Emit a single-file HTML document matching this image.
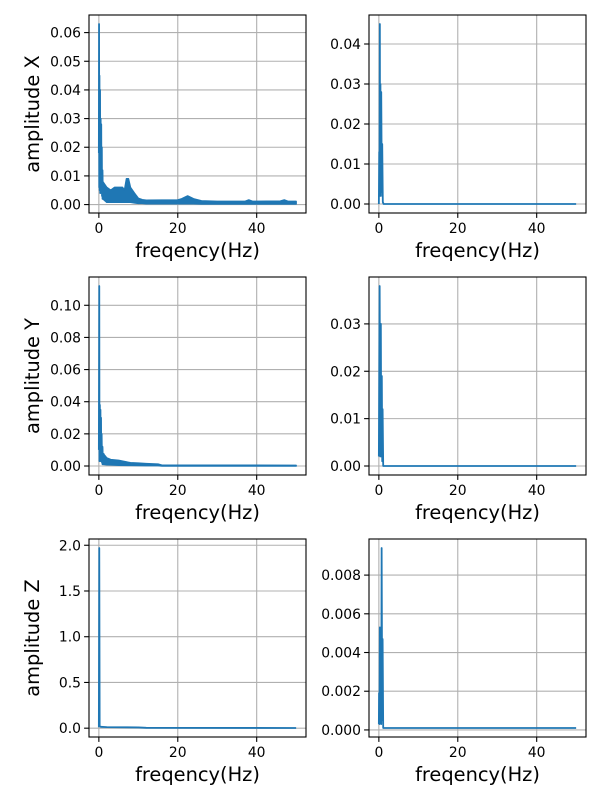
<!DOCTYPE html>
<html><head><meta charset="utf-8"><style>
body{margin:0;background:#fff;}
svg{display:block;font-family:"DejaVu Sans","Liberation Sans",sans-serif;}
</style></head><body>
<svg id="fig" width="600" height="800" viewBox="0 0 600 800"></svg>
<script>
const xTicks = [0, 20, 40];
const xLimits = [-2.5, 52.5];
// peak line data (low-frequency spikes)
const freqXL = [0,0.05,0.1,0.15,0.2,0.3,0.35,0.45,0.5,0.6,0.65,0.75,0.8,0.9,1.0,1.2];
const ampXL = [0.018,0.063,0.006,0.045,0.005,0.04,0.004,0.03,0.005,0.028,0.004,0.02,0.003,0.012,0.002,0.007];
// noise band envelope (dense spectrum region)
const bandFreqXL = [0.9,1,2,3,4,6,6.5,7,7.5,8,9,10,11,12,20,21,22.5,24,26,30,37,38,39,46,47,48,50];
const bandHiXL = [0.012,0.008,0.006,0.005,0.006,0.006,0.005,0.009,0.009,0.006,0.004,0.0022,0.0017,0.0015,0.0016,0.002,0.003,0.002,0.0013,0.0011,0.0011,0.0016,0.0011,0.0012,0.0016,0.0011,0.0011];
const bandLoXL = [0.002,0.002,0.0008,0.0008,0.0008,0.0008,0.0008,0.0008,0.0008,0.0008,0.0006,0.0004,0.0004,0.0003,0.0003,0.0003,0.0003,0.0003,0.0002,0.0002,0.0002,0.0002,0.0002,0.0002,0.0002,0.0002,0.0002];
const freqYL = [0,0.1,0.15,0.25,0.3,0.4,0.45,0.55,0.6,0.7,0.8,0.9,1,1.2];
const ampYL = [0.01,0.112,0.003,0.038,0.004,0.035,0.003,0.03,0.003,0.02,0.002,0.012,0.002,0.008];
const bandFreqYL = [0.9,1,2,3,5,8,10,12,15,16,50];
const bandHiYL = [0.012,0.008,0.005,0.004,0.0035,0.002,0.0018,0.0015,0.0012,0.0005,0.0004];
const bandLoYL = [0.001,0.001,0.0008,0.0007,0.0005,0.0004,0.0003,0.0002,0.0002,0,0];
const freqZL = [0,0.1,0.2,0.5,2,10,12,50];
const ampZL = [0.01,1.97,0.02,0.015,0.012,0.008,0.004,0.002];
const freqXR = [0,0.1,0.15,0.25,0.3,0.4,0.5,0.6,0.75,0.85,1,1.2,50];
const ampXR = [0,0.013,0.002,0.045,0.004,0.03,0.002,0.028,0.003,0.015,0.0005,0,0];
const freqYR = [0,0.2,0.35,0.5,0.6,0.75,0.85,0.95,1.1,50];
const ampYR = [0.002,0.038,0.002,0.03,0.002,0.019,0.001,0.012,0,0];
const freqZR = [0,0.05,0.15,0.25,0.35,0.5,0.6,0.7,0.85,0.95,1.1,50];
const ampZR = [0.0003,0.0019,0.0003,0.0053,0.0005,0.0052,0.0003,0.0094,0.0005,0.0047,0.0001,0.0001];
const yTicksXL = [0,0.01,0.02,0.03,0.04,0.05,0.06];
const yTicksXR = [0,0.01,0.02,0.03,0.04];
const yTicksYL = [0,0.02,0.04,0.06,0.08,0.10];
const yTicksYR = [0,0.01,0.02,0.03];
const yTicksZL = [0,0.5,1.0,1.5,2.0];
const yTicksZR = [0,0.002,0.004,0.006,0.008];

const NS = 'http://www.w3.org/2000/svg';
const fig = document.getElementById('fig');
function mk(tag, attrs, parent){const e=document.createElementNS(NS,tag);for(const k in attrs)e.setAttribute(k,attrs[k]);(parent||fig).appendChild(e);return e;}

const panels = [
 {key:'x-left', L:89, T:15, f:freqXL, a:ampXL, bf:bandFreqXL, bh:bandHiXL, bl:bandLoXL, ticks:yTicksXL, dec:2, ylabel:'amplitude X'},
 {key:'x-right', L:369, T:15, f:freqXR, a:ampXR, ticks:yTicksXR, dec:2},
 {key:'y-left', L:89, T:277, f:freqYL, a:ampYL, bf:bandFreqYL, bh:bandHiYL, bl:bandLoYL, ticks:yTicksYL, dec:2, ylabel:'amplitude Y'},
 {key:'y-right', L:369, T:277, f:freqYR, a:ampYR, ticks:yTicksYR, dec:2},
 {key:'z-left', L:89, T:539, f:freqZL, a:ampZL, ticks:yTicksZL, dec:1, ylabel:'amplitude Z'},
 {key:'z-right', L:369, T:539, f:freqZR, a:ampZR, ticks:yTicksZR, dec:3}
];
const W=217, H=198;
panels.forEach(p=>{
  const g = mk('g',{});
  
  
  let all=p.a.slice(); if(p.bh) all=all.concat(p.bh,p.bl);
  let mn=Math.min(...all), mx=Math.max(...all);
  const r=mx-mn; const y0=mn-0.05*r, y1=mx+0.05*r;
  const sx=v=>p.L+(v-xLimits[0])/(xLimits[1]-xLimits[0])*W;
  const sy=v=>p.T+H-(v-y0)/(y1-y0)*H;
  const B=p.T+H;
  xTicks.forEach(t=>{
    const x=sx(t);
    const gl=mk('line',{x1:x,x2:x,y1:p.T,y2:B,stroke:'#b0b0b0','stroke-width':1.1},g);
    
    
    mk('line',{x1:x,x2:x,y1:B,y2:B+4.9,stroke:'#000','stroke-width':1.1},g);
    const tx=mk('text',{x:x,y:B+20,'font-size':13.9,'text-anchor':'middle',fill:'#000'},g);
    tx.textContent=t;
    
    
  });
  p.ticks.forEach(t=>{
    const y=sy(t);
    const gl=mk('line',{x1:p.L,x2:p.L+W,y1:y,y2:y,stroke:'#b0b0b0','stroke-width':1.1},g);
    
    
    mk('line',{x1:p.L-4.9,x2:p.L,y1:y,y2:y,stroke:'#000','stroke-width':1.1},g);
    const tx=mk('text',{x:p.L-8,y:y+5,'font-size':13.9,'text-anchor':'end',fill:'#000'},g);
    tx.textContent=t.toFixed(p.dec);
    
    
  });
  if(p.bf){
    const up=p.bf.map((f,i)=>sx(f).toFixed(2)+','+sy(p.bh[i]).toFixed(2));
    const lo=p.bf.map((f,i)=>sx(f).toFixed(2)+','+sy(p.bl[i]).toFixed(2)).reverse();
    const band=mk('polygon',{points:up.concat(lo).join(' '),fill:'#1f77b4',stroke:'#1f77b4','stroke-width':1.5,'stroke-linejoin':'round'},g);
    
    
  }
  const pts=p.f.map((f,i)=>sx(f).toFixed(2)+','+sy(p.a[i]).toFixed(2)).join(' ');
  const line=mk('polyline',{points:pts,fill:'none',stroke:'#1f77b4','stroke-width':1.8,'stroke-linejoin':'round'},g);
  
  
  const fr=mk('rect',{x:p.L,y:p.T,width:W,height:H,fill:'none',stroke:'#000','stroke-width':1.1},g);
  
  
  const xl=mk('text',{x:p.L+W/2,y:B+44,'font-size':19.4,'text-anchor':'middle',fill:'#000'},g);
  xl.textContent='freqency(Hz)';
  
  
  if(p.ylabel){
    const cy=p.T+H/2;
    const yl=mk('text',{x:39,y:cy,'font-size':19.4,'text-anchor':'middle',fill:'#000',transform:'rotate(-90 39 '+cy+')'},g);
    yl.textContent=p.ylabel;
    
    
  }
});
</script>
</body></html>
